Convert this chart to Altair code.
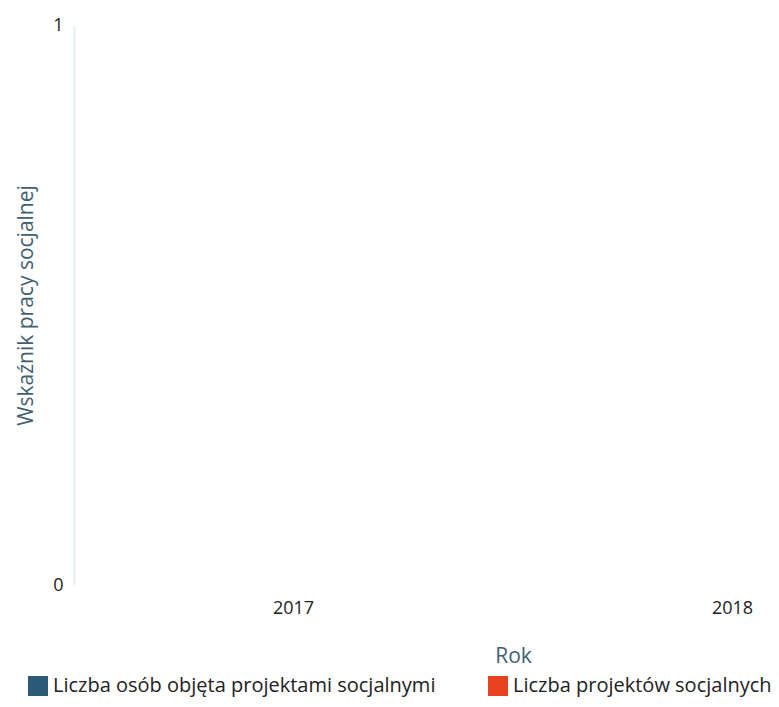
import altair as alt
import pandas as pd

years = ["2017", "2018"]
series = ["Liczba osób objęta projektami socjalnymi", "Liczba projektów socjalnych"]
values_people = [0, 0]
values_projects = [0, 0]
colors = ["#2c5b7a", "#e5421d"]

rows = []
for i, y in enumerate(years):
    rows.append({"Rok": y, "Seria": series[0], "Wartosc": values_people[i]})
    rows.append({"Rok": y, "Seria": series[1], "Wartosc": values_projects[i]})
df = pd.DataFrame(rows)

FONT = "Open Sans"
TITLE_COLOR = "#3f5f74"

chart = alt.Chart(df).mark_bar().encode(
    x=alt.X("Rok:N", scale=alt.Scale(range=[0, 878], paddingInner=0, paddingOuter=0),
            axis=alt.Axis(title="Rok", labelAngle=0, domain=False, ticks=False, grid=False,
                          labelFontSize=18, labelColor="#222222", labelPadding=14,
                          titleFontSize=21, titleFontWeight="normal", titleColor=TITLE_COLOR,
                          titlePadding=28, labelFont=FONT, titleFont=FONT)),
    xOffset=alt.XOffset("Seria:N"),
    y=alt.Y("Wartosc:Q", scale=alt.Scale(domain=[0, 1]),
            axis=alt.Axis(title="Wskaźnik pracy socjalnej", values=[0, 1], format="d",
                          grid=False, ticks=False,
                          domain=True, domainColor="#dde9f6", domainWidth=1.5,
                          labelFontSize=18, labelColor="#222222", labelPadding=11,
                          titleFontSize=21, titleFontWeight="normal", titleColor=TITLE_COLOR,
                          titlePadding=16, labelFont=FONT, titleFont=FONT)),
    color=alt.Color("Seria:N", scale=alt.Scale(domain=series, range=colors),
                    legend=alt.Legend(title=None, orient="none", direction="horizontal",
                                      legendX=-46, legendY=651, symbolType="square",
                                      symbolSize=400, symbolStrokeWidth=0, labelFontSize=20,
                                      labelColor="#222222", labelFont=FONT, columnPadding=52,
                                      labelLimit=420, symbolOffset=0, labelOffset=5)),
).properties(
    width=690,
    height=560,
    autosize=alt.AutoSizeParams(type="none"),
    padding={"left": 66, "top": 17, "right": 7, "bottom": 114},
).configure_view(stroke=None)

chart.save("out.html", embed_options={"renderer": "svg", "actions": False})
